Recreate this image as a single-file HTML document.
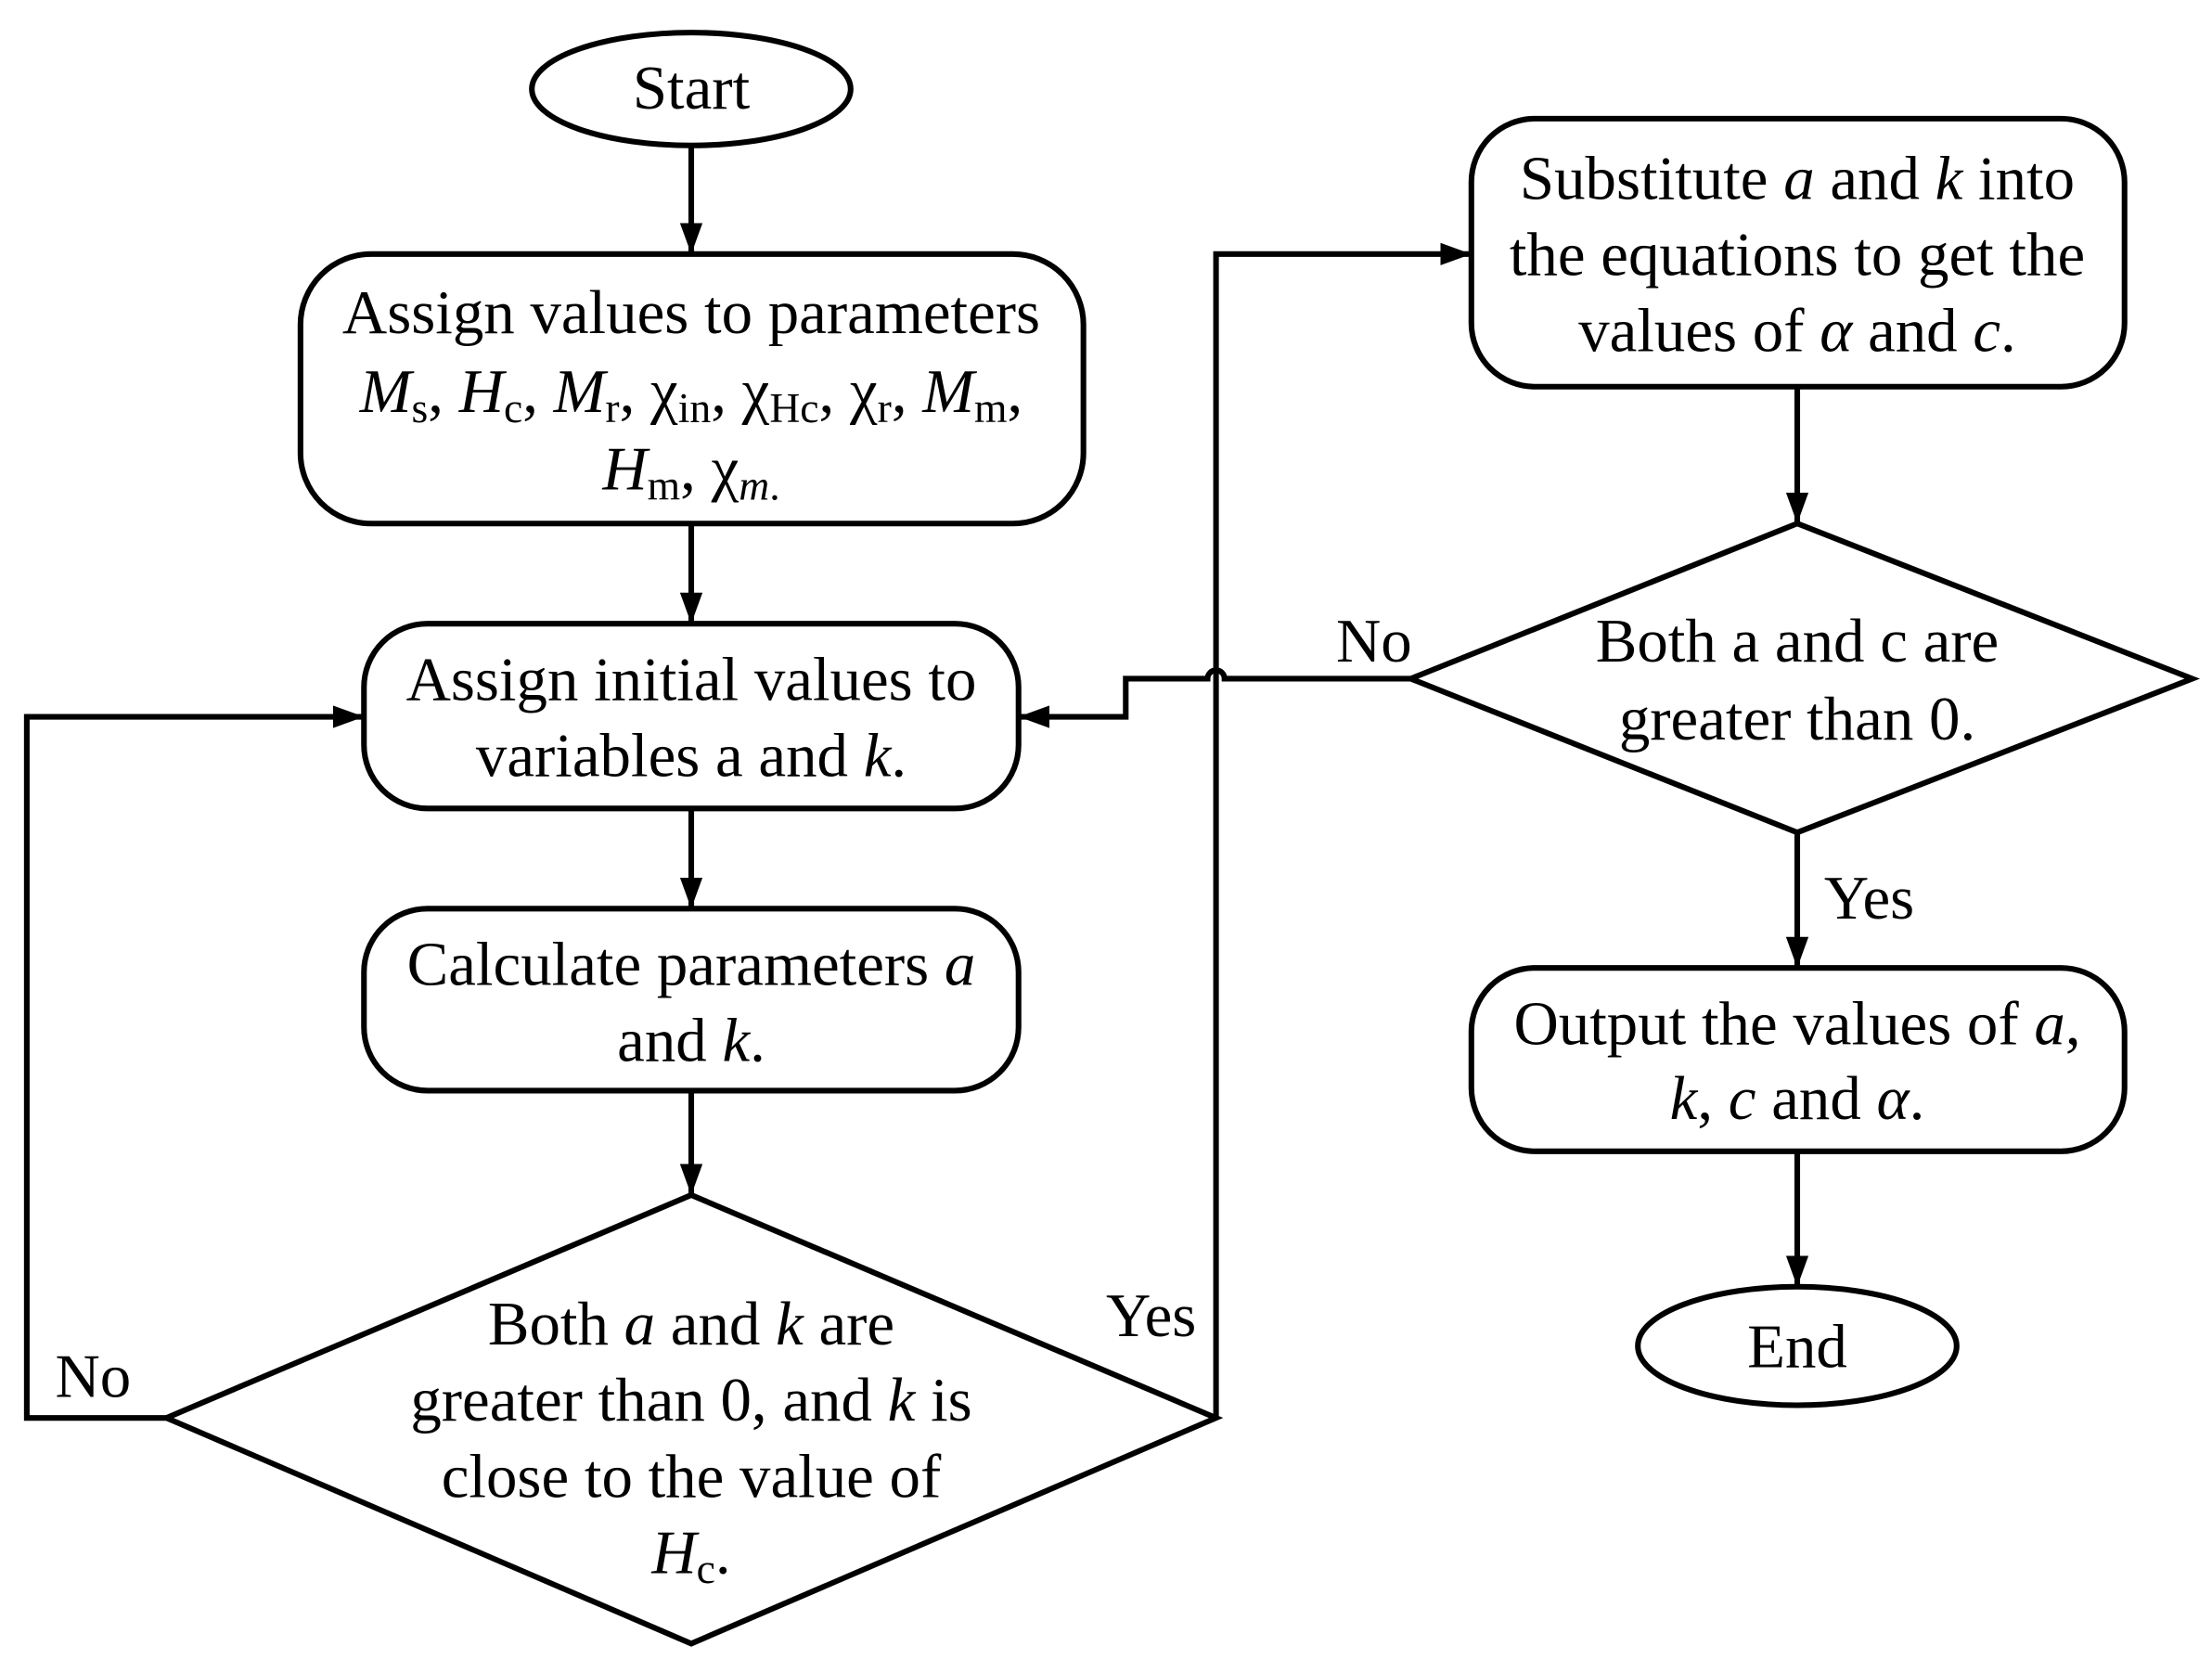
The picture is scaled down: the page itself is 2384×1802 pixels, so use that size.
<!DOCTYPE html>
<html><head><meta charset="utf-8"><style>
html,body{margin:0;padding:0;background:#fff;}
svg{display:block;}
text{font-family:"Liberation Serif",serif;font-size:44px;fill:#000;text-anchor:middle;}
.i{font-style:italic;}
</style></head><body>
<svg width="2384" height="1802" viewBox="0 0 1568 1185" xmlns="http://www.w3.org/2000/svg">
<defs>
<marker id="b" markerWidth="22" markerHeight="16" refX="22" refY="8" orient="auto" markerUnits="userSpaceOnUse"><path d="M0,0 L22,8 L0,16 z" fill="#000"/></marker></defs>
<g fill="none" stroke="#000" stroke-width="4">
<ellipse cx="490" cy="63" rx="113" ry="40"/>
<rect x="213" y="180" width="555" height="191" rx="50"/>
<rect x="258" y="442" width="464" height="131" rx="45"/>
<rect x="258" y="644" width="464" height="129" rx="45"/>
<polygon points="490,847 862,1005 490,1165 118,1005"/>
<rect x="1043" y="84" width="463" height="190" rx="45"/>
<polygon points="1274,371 1554,481 1274,590 1000,481"/>
<rect x="1043" y="686" width="463" height="130" rx="45"/>
<ellipse cx="1274" cy="954" rx="113" ry="42"/>
<g marker-end="url(#b)">
<line x1="490" y1="103" x2="490" y2="180"/>
<line x1="490" y1="371" x2="490" y2="442"/>
<line x1="490" y1="573" x2="490" y2="644"/>
<line x1="490" y1="773" x2="490" y2="847"/>
<polyline points="118,1005 19,1005 19,508 258,508"/>
<polyline points="862,1005 862,180 1043,180"/>
<line x1="1274" y1="274" x2="1274" y2="371"/>
<path d="M1000,481 L868,481 A6,6 0 0 0 856,481 L798,481 L798,508 L722,508"/>
<line x1="1274" y1="590" x2="1274" y2="686"/>
<line x1="1274" y1="816" x2="1274" y2="912"/>
</g>
</g>
<text x="490" y="236">Assign values to parameters</text>
<text x="490" y="77">Start</text>
<text x="490" y="292"><tspan class="i">M</tspan><tspan font-size="30" dy="7">s</tspan><tspan dy="-7">, </tspan><tspan class="i">H</tspan><tspan font-size="30" dy="7">c</tspan><tspan dy="-7">, </tspan><tspan class="i">M</tspan><tspan font-size="30" dy="7">r</tspan><tspan dy="-7">, χ</tspan><tspan font-size="30" dy="7">in</tspan><tspan dy="-7">, χ</tspan><tspan font-size="30" dy="7">Hc</tspan><tspan dy="-7">, χ</tspan><tspan font-size="30" dy="7">r</tspan><tspan dy="-7">, </tspan><tspan class="i">M</tspan><tspan font-size="30" dy="7">m</tspan><tspan dy="-7">,</tspan></text>
<text x="490" y="347"><tspan class="i">H</tspan><tspan font-size="30" dy="7">m</tspan><tspan dy="-7">, χ</tspan><tspan font-size="30" dy="7" class="i">m</tspan><tspan font-size="30">.</tspan></text>
<text x="490" y="496">Assign initial values to</text>
<text x="490" y="550">variables a and <tspan class="i">k</tspan>.</text>
<text x="490" y="698">Calculate parameters <tspan class="i">a</tspan></text>
<text x="490" y="752">and <tspan class="i">k</tspan>.</text>
<text x="490" y="953">Both <tspan class="i">a</tspan> and <tspan class="i">k</tspan> are</text>
<text x="490" y="1007">greater than 0, and <tspan class="i">k</tspan> is</text>
<text x="490" y="1061">close to the value of</text>
<text x="490" y="1115"><tspan class="i">H</tspan><tspan font-size="30" dy="7">c</tspan><tspan dy="-7">.</tspan></text>
<text x="66" y="990">No</text>
<text x="816" y="947">Yes</text>
<text x="1274" y="141">Substitute <tspan class="i">a</tspan> and <tspan class="i">k</tspan> into</text>
<text x="1274" y="195">the equations to get the</text>
<text x="1274" y="249">values of <tspan class="i">α</tspan> and <tspan class="i">c</tspan>.</text>
<text x="1274" y="469">Both a and c are</text>
<text x="1274" y="524">greater than 0.</text>
<text x="974" y="469">No</text>
<text x="1325" y="651">Yes</text>
<text x="1274" y="740">Output the values of <tspan class="i">a</tspan>,</text>
<text x="1274" y="793"><tspan class="i">k</tspan>, <tspan class="i">c</tspan> and <tspan class="i">α</tspan>.</text>
<text x="1274" y="969">End</text>
</svg>
</body></html>
